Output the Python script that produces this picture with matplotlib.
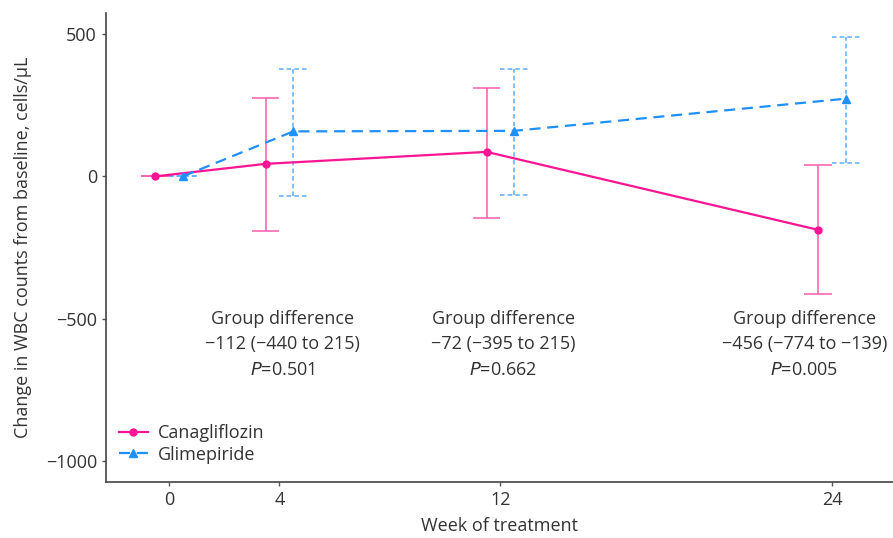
import numpy as np
import matplotlib
matplotlib.use("Agg")
import matplotlib.pyplot as plt

plt.rcParams['font.family'] = ['Open Sans', 'DejaVu Sans']

weeks = [0, 4, 12, 24]
cana_mean = [0, 44, 86, -188]
cana_low = [0, -191, -147, -414]
cana_high = [0, 275, 312, 39]
glim_mean = [0, 158, 160, 273]
glim_low = [0, -68, -66, 47]
glim_high = [0, 377, 378, 490]

diff_weeks = [4.1, 12.1, 23.0]
diff_text = ["Group difference\n\u2212112 (\u2212440 to 215)\n$\\it{P}$=0.501",
             "Group difference\n\u221272 (\u2212395 to 215)\n$\\it{P}$=0.662",
             "Group difference\n\u2212456 (\u2212774 to \u2212139)\n$\\it{P}$=0.005"]

pink = '#FF1493'
pink_light = '#FF5CAD'
blue = '#1E90FF'
blue_light = '#5AAEFF'
txt = '#333333'
fs = 13

fig = plt.figure(figsize=(8.93, 5.38), dpi=100)
ax = fig.add_axes([0.1187, 0.1041, 0.8813, 0.8717])

x = np.array(weeks, dtype=float)
xc = x - 0.5
xg = x + 0.5
cap = 0.5

# error bars
ax.vlines(xc, cana_low, cana_high, color=pink_light, lw=1.1, zorder=2)
ax.hlines(cana_low, xc - cap, xc + cap, color=pink_light, lw=1.1, zorder=2)
ax.hlines(cana_high, xc - cap, xc + cap, color=pink_light, lw=1.1, zorder=2)
ax.vlines(xg, glim_low, glim_high, color=blue_light, lw=1.1, linestyles=(0, (3, 2)), zorder=2)
ax.hlines(glim_low, xg - cap, xg + cap, color=blue_light, lw=1.1, linestyles=(0, (3, 2)), zorder=2)
ax.hlines(glim_high, xg - cap, xg + cap, color=blue_light, lw=1.1, linestyles=(0, (3, 2)), zorder=2)

ax.plot(xc, cana_mean, color=pink, lw=1.6, marker='o', ms=5, label='Canagliflozin', zorder=3)
ax.plot(xg, glim_mean, color=blue, lw=1.6, ls=(0, (5, 3)), marker='^', ms=6,
        label='Glimepiride', zorder=3)

for w, t in zip(diff_weeks, diff_text):
    ax.text(w, -590, t, ha='center', va='center', fontsize=fs,
            color=txt, linespacing=1.55)

ax.set_xlim(-2.28, 26.21)
ax.set_ylim(-1074, 574)
ax.set_xticks(weeks)
ax.set_yticks([500, 0, -500, -1000])
ax.set_yticklabels(['500', '0', '\u2212500', '\u22121000'])
ax.tick_params(colors='#555555', labelcolor=txt, labelsize=fs, length=3, width=1)
for s in ['top', 'right']:
    ax.spines[s].set_visible(False)
for s in ['left', 'bottom']:
    ax.spines[s].set_color('#444444')
    ax.spines[s].set_linewidth(1.2)

ax.set_xlabel('Week of treatment', fontsize=fs, color=txt, labelpad=6)
ax.set_ylabel('Change in WBC counts from baseline, cells/\u03bcL', fontsize=fs,
              color=txt, labelpad=10)

leg = ax.legend(loc='lower left', bbox_to_anchor=(0.0, 0.012), frameon=False,
                fontsize=fs, handlelength=1.6, handletextpad=0.6,
                labelspacing=0.2, borderaxespad=0.3)
for t in leg.get_texts():
    t.set_color(txt)

fig.savefig('out.png', dpi=100)
